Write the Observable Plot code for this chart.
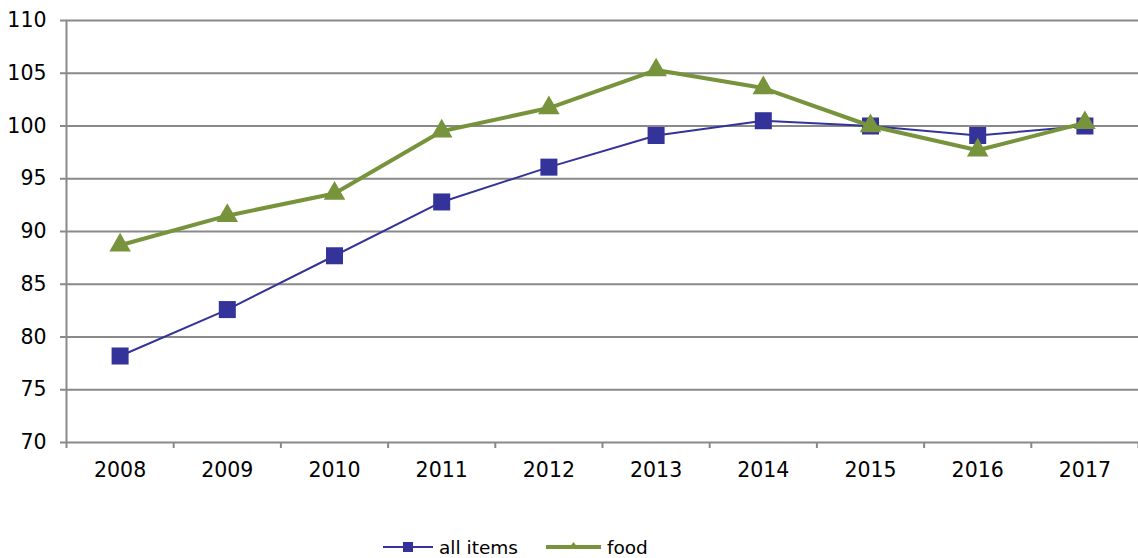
<!DOCTYPE html>
<html>
<head>
<meta charset="utf-8">
<script src="https://cdn.jsdelivr.net/npm/d3@7"></script>
<script src="https://cdn.jsdelivr.net/npm/@observablehq/plot@0.6"></script>
<style>
  html, body { margin: 0; padding: 0; background: #fff; }
  body { width: 1138px; height: 558px; overflow: hidden; font-family: "DejaVu Sans", Verdana, sans-serif; position: relative; }
  #legend { position: absolute; left: 383px; top: 535px; height: 24px; display: flex; align-items: center; font-size: 18.5px; color: #000; }
  #legend .item { display: flex; align-items: center; }
  #legend svg { display: block; }
</style>
</head>
<body>
<div id="chart"></div>
<div id="legend"></div>
<script>
const years = [2008, 2009, 2010, 2011, 2012, 2013, 2014, 2015, 2016, 2017];
const allItems = [78.2, 82.6, 87.7, 92.8, 96.1, 99.1, 100.5, 100.0, 99.1, 100.0];
const food = [88.7, 91.5, 93.6, 99.5, 101.7, 105.3, 103.6, 100.0, 97.7, 100.3];
const yTicks = [70, 75, 80, 85, 90, 95, 100, 105, 110];
const seriesNames = ["all items", "food"];
const seriesColors = ["#333399", "#77933C"];

const allData = years.map((y, i) => ({year: y, value: allItems[i]}));
const foodData = years.map((y, i) => ({year: y, value: food[i]}));
const boundaries = [years[0] - 0.5, ...years.map(y => y + 0.5)];
const x0 = years[0] - 0.5;

const chart = Plot.plot({
  width: 1138,
  height: 528,
  marginLeft: 66,
  marginRight: 0,
  marginTop: 20,
  marginBottom: 86,
  style: {fontFamily: "'DejaVu Sans', Verdana, sans-serif", fontSize: "20.5px", color: "#000", background: "#fff"},
  x: {domain: [x0, years[years.length - 1] + 0.5]},
  y: {domain: [70, 110]},
  marks: [
    Plot.gridY(yTicks, {stroke: "#898989", strokeOpacity: 1, strokeWidth: 2}),
    Plot.axisY({ticks: yTicks, tickSize: 6, text: null, stroke: "#898989", strokeWidth: 2, label: null}),
    Plot.text(yTicks, {x: x0, y: d => d, text: d => String(d), dx: -20, textAnchor: "end", fontSize: 20.5, fill: "#000"}),
    Plot.axisX({ticks: boundaries, tickSize: 6, tickFormat: () => "", stroke: "#898989", strokeWidth: 2, label: null}),
    Plot.axisX({ticks: years, tickSize: 0, tickPadding: 20, tickFormat: d => String(d), label: null, fill: "#000", fontSize: 20.5}),
    Plot.ruleX([x0], {y1: 70, y2: 110, stroke: "#898989", strokeWidth: 2}),
    Plot.line(allData, {x: "year", y: "value", stroke: seriesColors[0], strokeWidth: 2}),
    Plot.dot(allData, {x: "year", y: "value", symbol: "square", r: 9.6, fill: seriesColors[0], stroke: "none"}),
    Plot.line(foodData, {x: "year", y: "value", stroke: seriesColors[1], strokeWidth: 4}),
    Plot.dot(foodData, {x: "year", y: "value", symbol: "triangle", r: 8, fill: seriesColors[1], stroke: "none"})
  ]
});
document.getElementById("chart").appendChild(chart);

const legend = document.getElementById("legend");
legend.innerHTML = `
  <div class="item">
    <svg width="52" height="20"><line x1="0" y1="10" x2="50" y2="10" stroke="${seriesColors[0]}" stroke-width="2"/><rect x="20" y="5" width="10" height="10" fill="${seriesColors[0]}"/></svg>
    <span style="margin-left:4px">${seriesNames[0]}</span>
  </div>
  <div class="item" style="margin-left:28px">
    <svg width="56" height="20"><line x1="0" y1="10" x2="55" y2="10" stroke="${seriesColors[1]}" stroke-width="4"/><path d="M27.5,5 L32,11 L23,11 Z" fill="${seriesColors[1]}"/></svg>
    <span style="margin-left:5px">${seriesNames[1]}</span>
  </div>`;
</script>
</body>
</html>
